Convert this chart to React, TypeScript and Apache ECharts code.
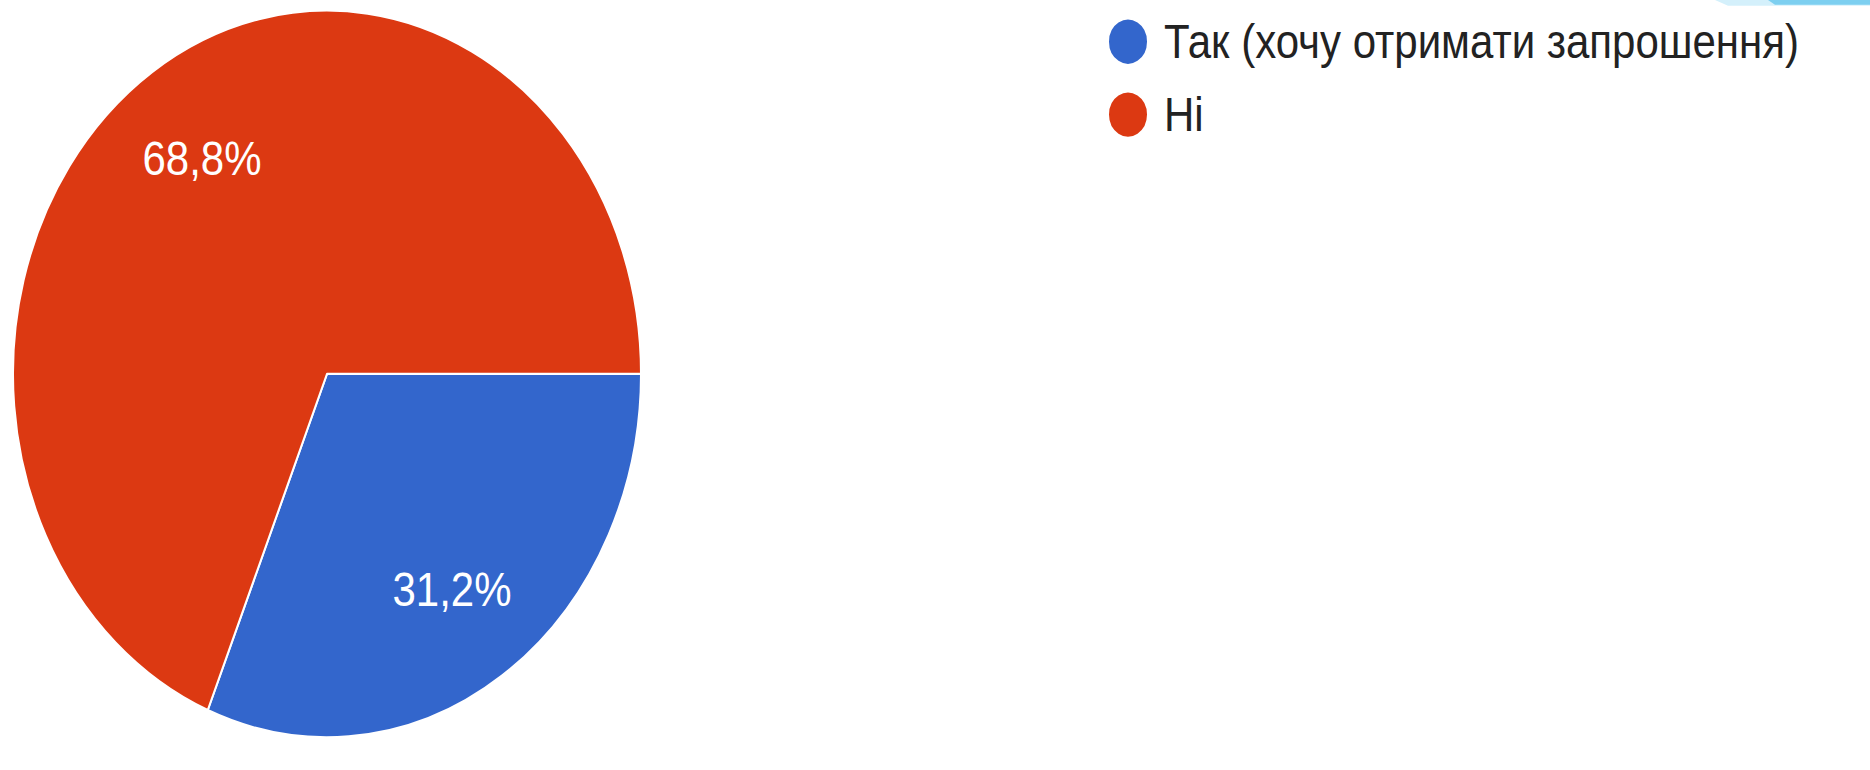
import React, { useEffect, useRef } from "react";
import * as echarts from "echarts";

const categories = ["Так (хочу отримати запрошення)", "Ні"];
const shares = [31.2, 68.8];
const colors = ["#3366cc", "#dc3912"];

const SCALE_Y = 1.1576;
const W = 1870;
const H = Math.round(770 / SCALE_Y);

export default function App() {
  const ref = useRef<HTMLDivElement>(null);
  useEffect(() => {
    if (!ref.current) return;
    const chart = echarts.init(ref.current, undefined, { renderer: "svg" });
    const data = categories.map((name, i) => ({
      name,
      value: shares[i],
      itemStyle: { color: colors[i] },
    }));
    chart.setOption({
      animation: false,
      backgroundColor: "#ffffff",
      legend: {
        orient: "vertical",
        left: 1102,
        top: 10,
        data: categories,
        icon: "circle",
        itemWidth: 62,
        itemHeight: 40,
        itemGap: 21,
        selectedMode: false,
        textStyle: {
          fontFamily: "Liberation Sans, Arial, sans-serif",
          fontSize: 42,
          color: "#222222",
        },
      },
      graphic: [
        {
          type: "polygon",
          shape: {
            points: [
              [1715, 0],
              [1870, 0],
              [1870, 5],
              [1728, 5],
            ],
          },
          style: { fill: "#d4f0fb" },
        },
        {
          type: "polygon",
          shape: {
            points: [
              [1768, 0],
              [1870, 0],
              [1870, 4],
              [1775, 4],
            ],
          },
          style: { fill: "#7dcff0" },
        },
      ],
      series: [
        {
          type: "pie",
          center: [327, 323],
          radius: [0, 314],
          startAngle: 0,
          clockwise: true,
          silent: true,
          label: { show: false },
          labelLine: { show: false },
          itemStyle: { borderColor: "#ffffff", borderWidth: 2 },
          data,
        },
        {
          type: "pie",
          center: [327, 323],
          radius: [129, 314],
          startAngle: 0,
          clockwise: true,
          silent: true,
          z: 5,
          itemStyle: { color: "rgba(0,0,0,0)", borderWidth: 0 },
          labelLine: { show: false },
          label: {
            show: true,
            position: "inside",
            color: "#ffffff",
            fontFamily: "Liberation Sans, Arial, sans-serif",
            fontSize: 42,
            formatter: (p: any) => p.value.toFixed(1).replace(".", ",") + "%",
          },
          data: categories.map((name, i) => ({ name, value: shares[i] })),
        },
      ],
    });
    return () => chart.dispose();
  }, []);
  return (
    <div
      ref={ref}
      style={{
        position: "absolute",
        left: 0,
        top: 0,
        width: W,
        height: H,
        transform: `scaleY(${SCALE_Y})`,
        transformOrigin: "0 0",
      }}
    />
  );
}
